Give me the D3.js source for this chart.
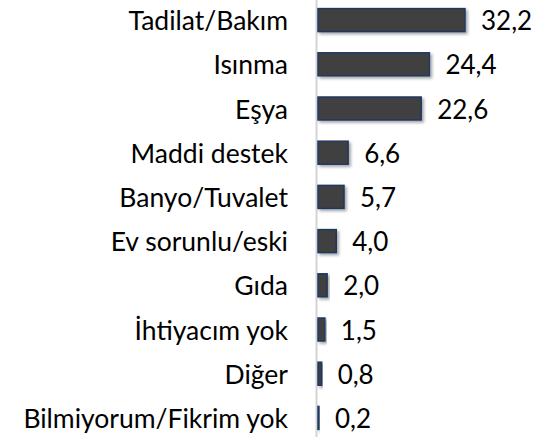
<!DOCTYPE html>
<html><head><meta charset="utf-8">
<script src="https://cdn.jsdelivr.net/npm/d3@7"></script>
<style>html,body{margin:0;padding:0;background:#fff}</style>
</head><body>
<script>
const categories = ["Tadilat/Bakım","Isınma","Eşya","Maddi destek","Banyo/Tuvalet","Ev sorunlu/eski","Gıda","İhtiyacım yok","Diğer","Bilmiyorum/Fikrim yok"];
const values = [32.2,24.4,22.6,6.6,5.7,4.0,2.0,1.5,0.8,0.2];

const W = 536, H = 437;
const svg = d3.select("body").append("svg").attr("width", W).attr("height", H);
const defs = svg.append("defs");
const f = defs.append("filter").attr("id","sh").attr("x","-20%").attr("y","-40%").attr("width","150%").attr("height","200%");
f.append("feDropShadow").attr("dx",2).attr("dy",2).attr("stdDeviation",1.5).attr("flood-color","#000").attr("flood-opacity",0.35);

const x = d3.scaleLinear().domain([0, 32.2]).range([318, 465]);
const y = d3.scaleBand().domain(categories).range([-2, 440]).paddingInner(0.48).paddingOuter(0.24);

svg.append("line").attr("x1",316.5).attr("x2",316.5).attr("y1",0).attr("y2",H)
  .attr("stroke","#d4d4d4").attr("stroke-width",2);

const fmt = v => v.toFixed(1).replace(".", ",");

svg.selectAll("rect.bar").data(values).join("rect")
  .attr("class","bar")
  .attr("x", x(0))
  .attr("y", (d,i) => y(categories[i]))
  .attr("width", d => x(d) - x(0))
  .attr("height", y.bandwidth())
  .attr("fill","#404040").attr("stroke","#1f3864").attr("stroke-width",1.5)
  .attr("filter","url(#sh)");

svg.selectAll("text.cat").data(categories).join("text")
  .attr("class","cat")
  .attr("x", 288).attr("y", d => y(d) + y.bandwidth()/2)
  .attr("text-anchor","end").attr("dominant-baseline","central")
  .attr("font-family","Lato, 'Open Sans', sans-serif").attr("font-size",26.5).attr("fill","#000")
  .text(d => d);

svg.selectAll("text.val").data(values).join("text")
  .attr("class","val")
  .attr("x", d => x(d) + 16).attr("y", (d,i) => y(categories[i]) + y.bandwidth()/2)
  .attr("dominant-baseline","central")
  .attr("font-family","Lato, 'Open Sans', sans-serif").attr("font-size",26).attr("fill","#000")
  .text(fmt);
</script>
</body></html>
